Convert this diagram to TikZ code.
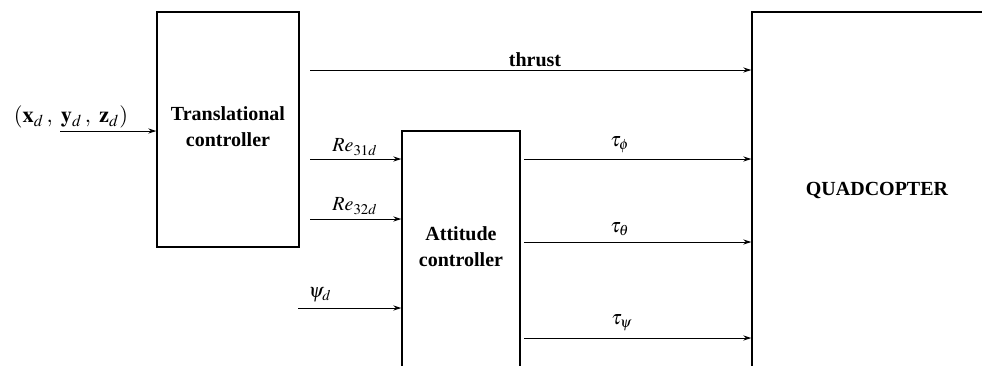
\documentclass[tikz,border=0pt]{standalone}
\usepackage{mathptmx}
\usepackage{fontspec}
\setmainfont{Liberation Serif}
\usetikzlibrary{arrows.meta}
\begin{document}
\begin{tikzpicture}[x=0.5pt,y=-0.5pt,
  box/.style={draw,line width=0.7pt,rectangle,inner sep=0pt},
  arr/.style={-{Stealth[length=4pt,width=2.6pt]},line width=0.5pt},
  ttl/.style={font=\bfseries,align=center,inner sep=0pt},
  sig/.style={inner sep=0pt}]
\clip (0,0) rectangle (982,365);
% boxes
\node[box,minimum width=71pt,minimum height=117.5pt] (trans) at (228,129.5) {};
\node[box,minimum width=59pt,minimum height=134.5pt] (att) at (461,265.5) {};
\node[box,minimum width=129pt,minimum height=194pt] (quad) at (881,206) {};
% titles
\node[ttl] (transt) at (228,127) {Translational\\[1pt]controller};
\node[ttl] (attt) at (461,247) {Attitude\\[1pt]controller};
\node[ttl] (quadt) at (877,190) {QUADCOPTER};
% start coordinates
\coordinate (inS) at (60,131);
\coordinate (thS) at (310,70);
\coordinate (r1S) at (310,159);
\coordinate (r2S) at (310,219);
\coordinate (psS) at (298,308);
\coordinate (t1S) at (524,159);
\coordinate (t2S) at (524,242);
\coordinate (t3S) at (524,338);
% connectors
\draw[arr] (inS) -- (inS -| trans.west);
\draw[arr] (thS) -- (thS -| quad.west);
\draw[arr] (r1S) -- (r1S -| att.west);
\draw[arr] (r2S) -- (r2S -| att.west);
\draw[arr] (psS) -- (psS -| att.west);
\draw[arr] (t1S) -- (t1S -| quad.west);
\draw[arr] (t2S) -- (t2S -| quad.west);
\draw[arr] (t3S) -- (t3S -| quad.west);
% labels
\node[sig,scale=1.12] (inL) at (71,117) {$(\mathbf{x}_d\,,\ \mathbf{y}_d\,,\ \mathbf{z}_d)$};
\node[sig,font=\bfseries] (thL) at (535,60) {thrust};
\node[sig] (r1L) at (355,147) {$Re_{31d}$};
\node[sig] (r2L) at (355,206) {$Re_{32d}$};
\node[sig] (psL) at (320,295) {$\psi_d$};
\node[sig] (t1L) at (620,145) {$\tau_\phi$};
\node[sig] (t2L) at (620,229) {$\tau_\theta$};
\node[sig] (t3L) at (622,323) {$\tau_\psi$};
\end{tikzpicture}
\end{document}
